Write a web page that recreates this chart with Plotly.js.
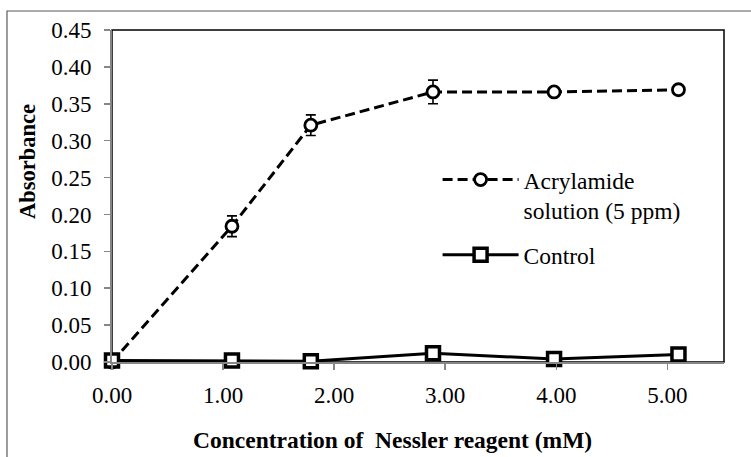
<!DOCTYPE html>
<html>
<head>
<meta charset="utf-8">
<script src="https://cdn.plot.ly/plotly-3.0.1.min.js"></script>
<style>html,body{margin:0;padding:0;background:#fff;}#chart{width:751px;height:457px;}</style>
</head>
<body>
<div id="chart"></div>
<script>
// Data
const xValues = [0.00, 1.08, 1.79, 2.89, 3.98, 5.10];
const acrylamideY = [0.000, 0.184, 0.321, 0.366, 0.366, 0.369];
const acrylamideErr = [0.000, 0.014, 0.014, 0.016, 0.004, 0.004];
const controlY = [0.002, 0.002, 0.001, 0.012, 0.004, 0.010];
const seriesNames = ["Acrylamide<br>solution (5 ppm)", "Control"];
const xTitle = "Concentration of  Nessler reagent (mM)";
const yTitle = "Absorbance";

const FONT = "Liberation Serif, Times New Roman, serif";

const traces = [
  {
    x: xValues, y: acrylamideY, name: seriesNames[0], type: 'scatter', mode: 'lines+markers',
    legendgroup: 'a', cliponaxis: false,
    line: {color: '#000', width: 3, dash: '10px,5px'},
    marker: {symbol: 'circle', size: 12, color: '#fff', line: {color: '#000', width: 2.8}},
    error_y: {type: 'data', array: acrylamideErr, visible: true, color: '#000', thickness: 1.6, width: 5}
  },
  {
    x: xValues, y: controlY, name: seriesNames[1], type: 'scatter', mode: 'lines+markers',
    legendgroup: 'b', cliponaxis: false,
    line: {color: '#000', width: 3},
    marker: {symbol: 'square', size: 13, color: '#fff', line: {color: '#000', width: 3.5}}
  }
];

const layout = {
  width: 751, height: 457,
  margin: {l: 112, r: 27, t: 30, b: 95},
  paper_bgcolor: '#fff', plot_bgcolor: '#fff',
  font: {family: FONT, color: '#000', size: 21},
  showlegend: true,
  legend: {
    x: 0.532, y: 0.615, xanchor: 'left', yanchor: 'top',
    bgcolor: 'rgba(0,0,0,0)', itemwidth: 76, valign: 'top',
    tracegroupgap: 11, traceorder: 'grouped',
    font: {family: FONT, size: 23.5, color: '#000'}
  },
  xaxis: {
    range: [0, 5.51], dtick: 1, tick0: 0, tickformat: '.2f',
    showgrid: false, zeroline: false,
    showline: true, linecolor: '#868686', linewidth: 2,
    ticks: 'outside', ticklen: 6, tickwidth: 1.5, tickcolor: '#868686',
    ticklabelstandoff: 5,
    tickfont: {family: FONT, size: 23, color: '#000'}
  },
  yaxis: {
    range: [0, 0.45], dtick: 0.05, tick0: 0, tickformat: '.2f',
    showgrid: false, zeroline: false,
    showline: true, linecolor: '#868686', linewidth: 2,
    ticks: 'outside', ticklen: 6, tickwidth: 1.5, tickcolor: '#868686',
    ticklabelstandoff: 8,
    tickfont: {family: FONT, size: 23, color: '#000'}
  },
  shapes: [
    {type: 'rect', xref: 'paper', yref: 'paper', x0: 0, x1: 1, y0: 0, y1: 1,
     line: {color: '#000', width: 1.5}, fillcolor: 'rgba(0,0,0,0)', layer: 'below'},
    {type: 'rect', xref: 'paper', yref: 'paper', x0: -0.1716, x1: 1.06, y0: -0.33, y1: 1.0572,
     line: {color: '#595959', width: 1.2}, fillcolor: 'rgba(0,0,0,0)', layer: 'below'}
  ],
  annotations: [
    {text: '<b>' + xTitle + '</b>', xref: 'paper', yref: 'paper', x: 0.4583, y: -0.235,
     xanchor: 'center', yanchor: 'middle', showarrow: false,
     font: {family: FONT, size: 23.5, color: '#000'}},
    {text: '<b>' + yTitle + '</b>', xref: 'paper', yref: 'paper', x: -0.1389, y: 0.6054,
     xanchor: 'center', yanchor: 'middle', showarrow: false, textangle: -90,
     font: {family: FONT, size: 22.5, color: '#000'}}
  ]
};

Plotly.newPlot('chart', traces, layout, {displayModeBar: false, staticPlot: true});
</script>
</body>
</html>
